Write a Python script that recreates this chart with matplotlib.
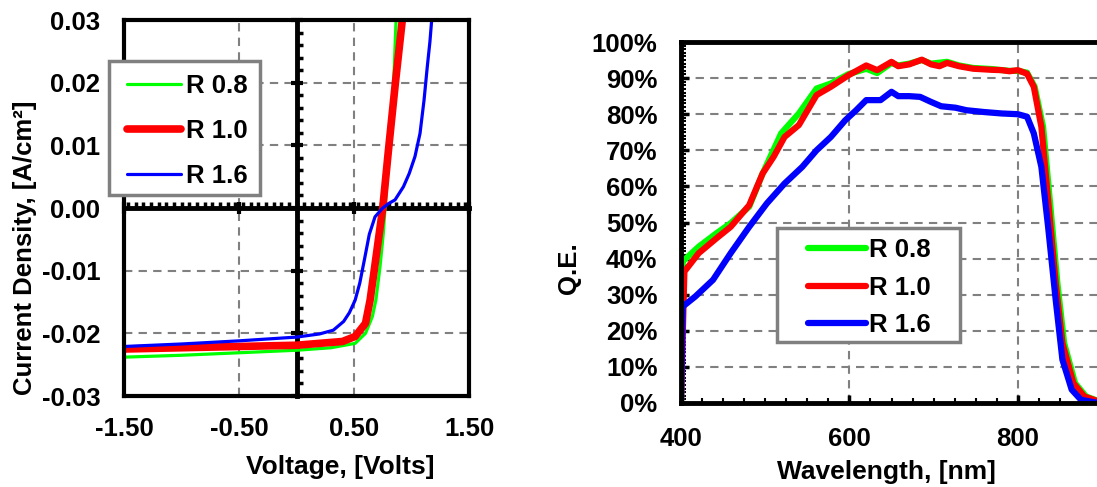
import numpy as np
import matplotlib
matplotlib.use("Agg")
import matplotlib.pyplot as plt
from matplotlib.patches import Rectangle
from matplotlib.ticker import MultipleLocator, FormatStrFormatter, PercentFormatter, NullFormatter

plt.rcParams['font.family'] = ['Liberation Sans', 'DejaVu Sans']
plt.rcParams['font.weight'] = 'bold'
plt.rcParams['axes.labelweight'] = 'bold'
plt.rcParams['axes.unicode_minus'] = False

# J-V data (V in volts, J in A/cm2)
v_08 = [-1.5, -1.0, -0.5, 0.0, 0.3, 0.51, 0.60, 0.66, 0.69, 0.726, 0.755, 0.77, 0.795, 0.82, 0.845, 0.87]
j_08 = [-0.0238, -0.0235, -0.0231, -0.0227, -0.0223, -0.0216, -0.0200, -0.0173, -0.0147, -0.0094,
        -0.0040, 0.0000, 0.0060, 0.0119, 0.0200, 0.0320]
v_10 = [-1.5, -1.0, -0.5, 0.0, 0.4, 0.51, 0.60, 0.64, 0.68, 0.72, 0.75, 0.80, 0.86, 0.92, 0.94]
j_10 = [-0.0225, -0.0223, -0.0221, -0.0219, -0.0213, -0.0205, -0.0184, -0.0147, -0.0094, -0.0040,
        0.0000, 0.0093, 0.0200, 0.0300, 0.0335]
v_16 = [-1.5, -1.0, -0.5, 0.0, 0.2, 0.32, 0.41, 0.46, 0.51, 0.55, 0.59, 0.633, 0.683, 0.75, 0.80, 0.857,
        0.93, 0.98, 1.03, 1.074, 1.109, 1.137, 1.16, 1.18]
j_16 = [-0.0221, -0.0217, -0.0212, -0.0206, -0.0201, -0.0195, -0.0181, -0.0167, -0.0147, -0.0120,
        -0.0083, -0.0042, -0.0014, 0.0000, 0.0007, 0.0013, 0.0034, 0.0055, 0.0082, 0.0119, 0.0172,
        0.0225, 0.0265, 0.0310]

# QE data (wavelength nm, QE %)
wl_08 = [400, 402, 421, 442, 459, 481, 497, 519, 540, 561, 578, 599, 620, 633, 650, 658, 671, 686, 697,
         716, 730, 747, 769, 790, 800, 811, 820, 830, 838, 847, 855, 868, 881, 896, 900]
qe_08 = [0, 39.2, 43.3, 47.0, 49.8, 54.4, 63.6, 74.7, 80.2, 87.1, 88.5, 91.1, 92.6, 91.4, 94.2, 93.5,
         94.0, 95.0, 94.0, 94.5, 93.5, 92.8, 92.5, 92.0, 92.0, 91.5, 87.6, 76.5, 56.2, 33.2, 16.6,
         5.5, 1.8, 0.5, 0.3]
wl_10 = [400, 404, 421, 442, 459, 481, 497, 510, 523, 540, 561, 578, 599, 620, 633, 650, 658, 671, 686,
         697, 707, 716, 730, 747, 769, 781, 790, 800, 811, 819, 828, 836, 845, 853, 866, 879, 895, 900]
qe_10 = [0, 36.4, 41.5, 45.6, 48.8, 54.8, 63.6, 68.2, 73.7, 77.0, 85.3, 87.6, 90.8, 93.5, 92.2, 94.5,
         93.3, 93.8, 95.1, 93.8, 93.3, 94.2, 93.3, 92.6, 92.3, 92.2, 91.9, 92.2, 91.2, 87.6, 76.5,
         56.2, 33.2, 16.6, 5.5, 1.8, 0.5, 0.3]
wl_16 = [400, 402, 417, 438, 459, 481, 502, 523, 544, 561, 578, 595, 608, 620, 637, 650, 658, 671, 684,
         697, 709, 726, 739, 760, 781, 800, 811, 819, 828, 836, 845, 853, 864, 875, 895, 900]
qe_16 = [0, 26.7, 29.5, 34.1, 41.5, 48.8, 55.3, 60.8, 65.4, 70.0, 73.7, 78.3, 81.1, 83.9, 83.9, 86.2,
         85.0, 85.0, 84.8, 83.4, 82.2, 81.8, 81.1, 80.6, 80.2, 80.0, 79.3, 74.7, 65.4, 48.8, 28.6,
         12.0, 3.7, 0.9, 0.0, 0.0]

labels = ['R 0.8', 'R 1.0', 'R 1.6']
colors = ['#00ff00', '#ff0000', '#0000ff']
grid_kw = dict(color='#808080', linestyle=(0, (4, 3)), linewidth=1.5)
fs_tick = 18.5
fs_lab = 19

fig = plt.figure(figsize=(10.97, 4.87), dpi=100)
W, H = 1097, 487

def frac(x0, y0, x1, y1):
    return [x0 / W, 1 - y1 / H, (x1 - x0) / W, (y1 - y0) / H]

def legend_box(a, x0, y0, x1, y1, anchor, **kw):
    # grey frame drawn separately so the inner padding can follow the original
    a.add_patch(Rectangle((x0 / W, 1 - y1 / H), (x1 - x0) / W, (y1 - y0) / H,
                          transform=fig.transFigure, facecolor='white', edgecolor='#808080',
                          linewidth=2.5, clip_on=False, zorder=6))
    lg = a.legend(loc='upper left', bbox_to_anchor=(anchor[0] / W, 1 - anchor[1] / H),
                  bbox_transform=fig.transFigure, fontsize=fs_tick, frameon=False,
                  borderaxespad=0, borderpad=0, **kw)
    lg.set_zorder(7)
    return lg

# ---- left: J-V ----
pos = frac(124, 20, 469, 396)
base = fig.add_axes(pos)
ax = fig.add_axes(pos)
ax.patch.set_visible(False)
for a in (base, ax):
    a.set_xlim(-1.5, 1.5)
    a.set_ylim(-0.03, 0.03)

# zero axes with ticks, drawn under the curves
for s in ('top', 'right'):
    base.spines[s].set_visible(False)
base.spines['left'].set_position(('data', 0))
base.spines['bottom'].set_position(('data', 0))
base.spines['left'].set_linewidth(3.5)
base.spines['bottom'].set_linewidth(3.5)
base.xaxis.set_major_locator(MultipleLocator(1.0, offset=0.5))
base.xaxis.set_minor_locator(MultipleLocator(1 / 15))
base.yaxis.set_major_locator(MultipleLocator(0.01))
base.yaxis.set_minor_locator(MultipleLocator(0.002))
base.xaxis.set_major_formatter(NullFormatter())
base.yaxis.set_major_formatter(NullFormatter())
base.tick_params(which='major', direction='inout', length=9, width=3)
base.tick_params(which='minor', direction='in', length=4, width=2.5)
for x in (-0.5, 0.5):
    base.axvline(x, zorder=0, **grid_kw)
for y in (-0.02, -0.01, 0.01, 0.02):
    base.axhline(y, zorder=0, **grid_kw)

ax.plot(v_08, j_08, color=colors[0], lw=2.3, label=labels[0], solid_capstyle='round')
ax.plot(v_10, j_10, color=colors[1], lw=5.5, label=labels[1], solid_capstyle='round')
ax.plot(v_16, j_16, color=colors[2], lw=2.3, label=labels[2], solid_capstyle='round')
for s in ax.spines.values():
    s.set_linewidth(3)
ax.set_xticks([-1.5, -0.5, 0.5, 1.5])
ax.set_yticks([-0.03, -0.02, -0.01, 0.0, 0.01, 0.02, 0.03])
ax.xaxis.set_major_formatter(FormatStrFormatter('%.2f'))
ax.yaxis.set_major_formatter(FormatStrFormatter('%.2f'))
ax.tick_params(length=0, labelsize=fs_tick)
ax.tick_params(axis='y', pad=17)
ax.tick_params(axis='x', pad=15)
ax.set_xlabel('Voltage, [Volts]', fontsize=fs_lab, va='center')
ax.xaxis.set_label_coords(0.626, -0.189)
ax.set_ylabel('Current Density, [A/cm²]', fontsize=fs_tick, va='center')
ax.yaxis.set_label_coords(-0.287, 0.394)
legend_box(ax, 109, 61, 260, 195, (127, 74),
           handlelength=2.1, handletextpad=0.2, labelspacing=0.82)

# ---- right: QE ----
ax2 = fig.add_axes(frac(681, 42, 1102, 403))
ax2.set_xlim(400, 900)
ax2.set_ylim(0, 100)
for x in (600, 800):
    ax2.axvline(x, zorder=0, **grid_kw)
for y in range(10, 100, 10):
    ax2.axhline(y, zorder=0, **grid_kw)
ax2.plot(wl_08, qe_08, color=colors[0], lw=4.5, label=labels[0], solid_capstyle='round')
ax2.plot(wl_10, qe_10, color=colors[1], lw=4.5, label=labels[1], solid_capstyle='round')
ax2.plot(wl_16, qe_16, color=colors[2], lw=4.5, label=labels[2], solid_capstyle='round')
for s in ax2.spines.values():
    s.set_linewidth(3.5)
ax2.xaxis.set_major_locator(MultipleLocator(200))
ax2.xaxis.set_minor_locator(MultipleLocator(25))
ax2.yaxis.set_major_locator(MultipleLocator(10))
ax2.yaxis.set_minor_locator(MultipleLocator(1))
ax2.yaxis.set_major_formatter(PercentFormatter(xmax=100, decimals=0))
ax2.tick_params(which='major', direction='in', length=6, width=2.5, labelsize=fs_tick)
ax2.tick_params(which='minor', direction='in', length=3.5, width=1.5)
ax2.tick_params(axis='y', which='major', pad=17)
ax2.tick_params(axis='x', which='major', pad=17)
ax2.tick_params(top=False, right=False, which='both')
ax2.set_xlabel('Wavelength, [nm]', fontsize=fs_lab, va='center')
ax2.xaxis.set_label_coords(0.489, -0.191)
ax2.set_ylabel('Q.E.', fontsize=fs_tick, va='center')
ax2.yaxis.set_label_coords(-0.267, 0.374)
legend_box(ax2, 777, 228, 960, 342, (808, 238),
           handlelength=2.25, handletextpad=0.12, labelspacing=0.53)

fig.savefig('out.png', dpi=100)
